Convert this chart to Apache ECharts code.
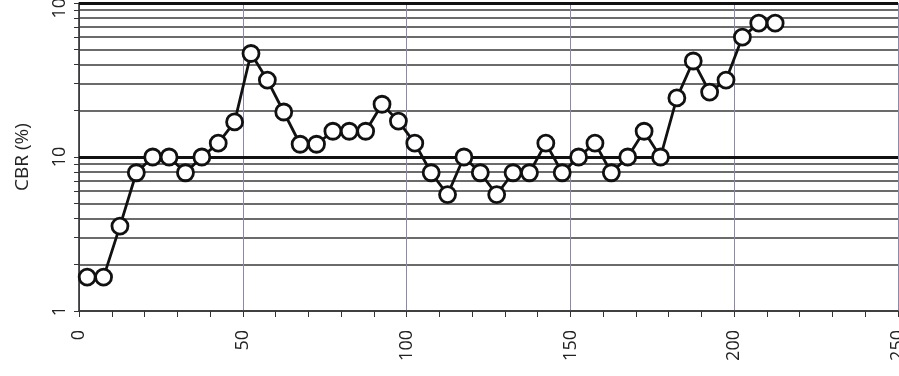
<!DOCTYPE html>
<html><head><meta charset="utf-8">
<script src="https://cdn.jsdelivr.net/npm/echarts@6/dist/echarts.min.js"></script>
<style>html,body{margin:0;padding:0;background:#fff}#c{width:899px;height:376px}</style>
</head><body><div id="c"></div>
<script>
const xValues = [2.5,7.5,12.5,17.5,22.5,27.5,32.5,37.5,42.5,47.5,52.5,57.5,62.5,67.5,72.5,77.5,82.5,87.5,92.5,97.5,102.5,107.5,112.5,117.5,122.5,127.5,132.5,137.5,142.5,147.5,152.5,157.5,162.5,167.5,172.5,177.5,182.5,187.5,192.5,197.5,202.5,207.5,212.5];
const cbr = [1.66,1.66,3.56,7.9,10,10,7.9,10,12.3,16.9,47,31.6,19.6,12.1,12.1,14.7,14.7,14.7,22,17.1,12.3,7.9,5.7,10,7.9,5.7,7.9,7.9,12.3,7.9,10,12.3,7.9,10,14.7,10,24.2,42,26.4,31.6,60,74,74];
const yLabels = [1,10,100];
const yGrid = [1,2,3,4,5,6,7,8,9,10,20,30,40,50,60,70,80,90,100];
const font = "'Open Sans', 'Liberation Sans', sans-serif";
const chart = echarts.init(document.getElementById('c'));
chart.setOption({
  animation:false,
  grid:{left:79,right:1,top:3,bottom:65,containLabel:false,outerBoundsMode:'none'},
  xAxis:{type:'value',min:0,max:250,interval:50,
    axisLine:{show:true,onZero:false,lineStyle:{color:'#333',width:1.5}},
    axisTick:{show:true,inside:false,length:6,lineStyle:{color:'#333',width:1}},
    minorTick:{show:true,splitNumber:5,length:6,lineStyle:{color:'#333',width:1}},
    splitLine:{show:true,lineStyle:{color:'#8a8aa8',width:1}},
    axisLabel:{rotate:90,margin:19,fontSize:18,color:'#222',fontFamily:font}},
  yAxis:{type:'log',logBase:10,min:1,max:100,
    name:'CBR (%)',nameLocation:'middle',nameGap:47,nameTextStyle:{fontSize:19,color:'#222',fontFamily:font},
    axisLine:{show:true,lineStyle:{color:'#222',width:1.5}},
    axisTick:{show:true,inside:false,length:5,customValues:yGrid,lineStyle:{color:'#333',width:1}},
    splitLine:{show:true,lineStyle:{color:'#3a3a3a',width:1.5}},
    axisLabel:{customValues:yLabels,rotate:90,margin:10,fontSize:18,color:'#222',fontFamily:font}},
  series:[{type:'line',data:xValues.map((x,i)=>[x,cbr[i]]),
    symbol:'circle',symbolSize:16,
    lineStyle:{color:'#111',width:2.8},
    itemStyle:{color:'#fff',borderColor:'#111',borderWidth:2.8},
    markLine:{silent:true,symbol:'none',label:{show:false},
      lineStyle:{color:'#111',width:3,type:'solid'},
      data:[{yAxis:10},{yAxis:100}]}, z:5}]
});
</script></body></html>
